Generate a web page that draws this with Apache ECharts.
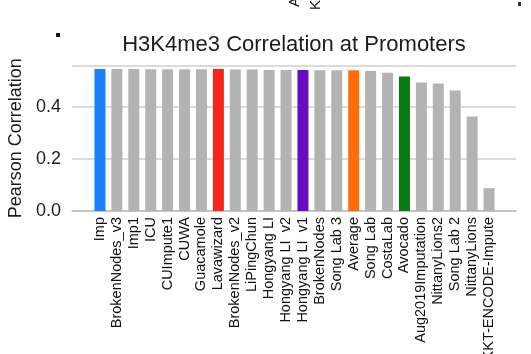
<!DOCTYPE html>
<html>
<head>
<meta charset="utf-8">
<title>H3K4me3 Correlation at Promoters</title>
<script src="https://cdn.jsdelivr.net/npm/echarts@6/dist/echarts.min.js"></script>
<style>
  html, body { margin: 0; padding: 0; background: #fff; }
  #main { width: 531px; height: 354px; }
</style>
</head>
<body>
<div id="main"></div>
<script>
// teams, in plotted order
var teams = ['Imp', 'BrokenNodes_v3', 'Imp1', 'ICU', 'CUImpute1', 'CUWA', 'Guacamole',
  'Lavawizard', 'BrokenNodes_v2', 'LiPingChun', 'Hongyang LI', 'Hongyang LI  v2',
  'Hongyang LI  v1', 'BrokenNodes', 'Song Lab 3', 'Average', 'Song Lab', 'CostaLab',
  'Avocado', 'Aug2019Imputation', 'NittanyLions2', 'Song Lab 2', 'NittanyLions',
  'KKT-ENCODE-Impute'];
// pearson correlation
var pearson = [0.546, 0.546, 0.546, 0.545, 0.545, 0.545, 0.545,
  0.546, 0.544, 0.544, 0.542, 0.542,
  0.542, 0.541, 0.541, 0.541, 0.538, 0.532,
  0.517, 0.494, 0.490, 0.463, 0.363,
  0.088];
// highlighted bars, everything else is grey
var highlight = {
  'Imp': '#1c80f8',
  'Lavawizard': '#f5261a',
  'Hongyang LI  v1': '#6a0cc6',
  'Average': '#ff6d0a',
  'Avocado': '#087a12'
};
var yTicks = [0, 0.2, 0.4];

var font = '"Liberation Sans", Arial, sans-serif';
var chart = echarts.init(document.getElementById('main'));

var barData = teams.map(function (t, i) {
  return {
    value: pearson[i],
    itemStyle: { color: highlight[t] || '#b3b3b3' }
  };
});

var option = {
  backgroundColor: '#fff',
  animation: false,
  textStyle: { fontFamily: font },
  title: {
    text: 'H3K4me3 Correlation at Promoters',
    left: 289,
    top: 29,
    textAlign: 'center',
    textStyle: { fontSize: 22, fontWeight: 'normal', color: '#1c1c1c', fontFamily: font }
  },
  grid: [
    // grid 0 carries the value axis, gridlines and baseline
    { left: 72, right: 15, top: 65.4, bottom: 143, outerBoundsMode: 'none', containLabel: false },
    // grid 1 carries the bars (labels may run off the bottom edge, as in the original)
    { left: 91.5, right: 33.5, top: 65.4, bottom: 143, outerBoundsMode: 'none', containLabel: false }
  ],
  xAxis: [
    {
      gridIndex: 0, type: 'value', min: 0, max: 1,
      axisLine: { show: true, onZero: false, lineStyle: { color: '#bdbdbd', width: 1.5 } },
      axisTick: { show: false }, axisLabel: { show: false }, splitLine: { show: false }
    },
    {
      gridIndex: 1, type: 'category', data: teams,
      axisLine: { show: false }, axisTick: { show: false },
      axisLabel: {
        interval: 0, rotate: 90, margin: 6,
        fontSize: 14.5, color: '#111', fontFamily: font
      }
    }
  ],
  yAxis: [
    {
      gridIndex: 0, type: 'value', min: 0, max: 0.56, interval: 0.2,
      name: 'Pearson Correlation', nameLocation: 'middle', nameGap: 43,
      nameTextStyle: { fontSize: 18, color: '#1c1c1c', fontFamily: font },
      axisLine: { show: false }, axisTick: { show: false },
      axisLabel: {
        fontSize: 18, color: '#1c1c1c', margin: 11, fontFamily: font,
        formatter: function (v) { return yTicks.indexOf(Math.round(v * 10) / 10) >= 0 ? v.toFixed(1) : ''; }
      },
      splitLine: { show: true, lineStyle: { color: '#cfcfcf', width: 1.5 } }
    },
    {
      gridIndex: 1, type: 'value', min: 0, max: 0.56, show: false
    }
  ],
  series: [{
    type: 'bar',
    xAxisIndex: 1,
    yAxisIndex: 1,
    barWidth: 11,
    data: barData
  }],
  graphic: [
    { type: 'rect', left: 56, top: 33, shape: { width: 4, height: 4 }, style: { fill: '#111' } },
    { type: 'rect', left: 518, top: 2, shape: { width: 3, height: 4 }, style: { fill: '#333' } },
    {
      type: 'text', x: 295, y: 7, rotation: Math.PI / 2,
      style: { text: 'Average', fontSize: 15, fontFamily: font, fill: '#111', verticalAlign: 'middle' }
    },
    {
      type: 'text', x: 316, y: 10, rotation: Math.PI / 2,
      style: { text: 'KKT-ENCODE-Impute', fontSize: 15, fontFamily: font, fill: '#111', verticalAlign: 'middle' }
    }
  ]
};

chart.setOption(option);
</script>
</body>
</html>
